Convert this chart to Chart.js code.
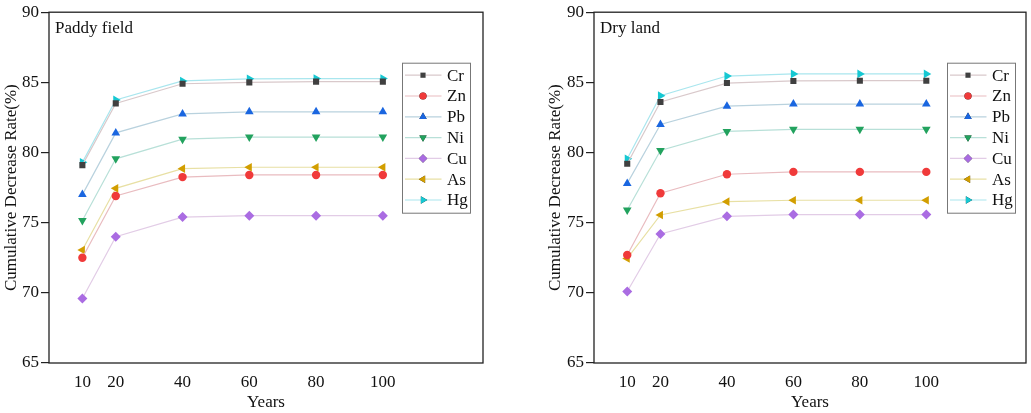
<!DOCTYPE html>
<html>
<head>
<meta charset="utf-8">
<script src="https://cdn.jsdelivr.net/npm/chart.js@4.4.1/dist/chart.umd.min.js"></script>
<style>
  html, body { margin: 0; padding: 0; background: #fff; }
  #wrap { position: relative; width: 1031px; height: 413px; }
  .panel { position: absolute; top: 0; }
  #paddy { left: 0; width: 515px; height: 413px; }
  #dry { left: 545px; width: 486px; height: 413px; }
</style>
</head>
<body>
<div id="wrap">
  <div class="panel" id="paddy"><canvas id="paddyChart"></canvas></div>
  <div class="panel" id="dry"><canvas id="dryChart"></canvas></div>
</div>
<script>
'use strict';

// years on the x axis
let years = [10, 20, 40, 60, 80, 100];
let yTicks = [65, 70, 75, 80, 85, 90];
let metals = ['Cr', 'Zn', 'Pb', 'Ni', 'Cu', 'As', 'Hg'];

// paddy field values
let paddyCr = [79.1, 83.5, 84.9, 85.0, 85.05, 85.05];
let paddyZn = [72.5, 76.9, 78.25, 78.4, 78.4, 78.4];
let paddyPb = [77.0, 81.4, 82.75, 82.9, 82.9, 82.9];
let paddyNi = [75.15, 79.55, 80.95, 81.1, 81.1, 81.1];
let paddyCu = [69.6, 74.0, 75.4, 75.5, 75.5, 75.5];
let paddyAs = [73.05, 77.45, 78.85, 78.95, 78.95, 78.95];
let paddyHg = [79.3, 83.75, 85.1, 85.25, 85.27, 85.27];

// dry land values
let dryCr = [79.2, 83.6, 84.95, 85.1, 85.12, 85.12];
let dryZn = [72.7, 77.1, 78.45, 78.62, 78.62, 78.62];
let dryPb = [77.8, 82.0, 83.3, 83.45, 83.45, 83.45];
let dryNi = [75.9, 80.15, 81.5, 81.65, 81.65, 81.65];
let dryCu = [70.1, 74.2, 75.45, 75.58, 75.58, 75.58];
let dryAs = [72.45, 75.55, 76.5, 76.6, 76.6, 76.6];
let dryHg = [79.55, 84.05, 85.45, 85.6, 85.6, 85.6];

let markerColors = ['#404040', '#f03a3a', '#1a66e0', '#22a25e', '#aa6ce2', '#d29e00', '#16c8d2'];
let lineColors = ['#d9c9cb', '#e9bcc0', '#b9d2de', '#b8e0d8', '#e2cce6', '#e8e0a4', '#a9e6ee'];
let markerShapes = ['rect', 'circle', 'triangle', 'triangle', 'rectRot', 'triangle', 'triangle'];
let markerRotation = [0, 0, 0, 180, 0, -90, 90];
let markerSizes = [4.3, 4.2, 5, 5, 5, 5, 5];

const serif = '"Liberation Serif", "DejaVu Serif", serif';

function makeDatasets(seriesList) {
  let sets = [];
  for (let i = 0; i < metals.length; i++) {
    let pts = [];
    for (let j = 0; j < years.length; j++) {
      pts.push({ x: years[j], y: seriesList[i][j] });
    }
    sets.push({
      label: metals[i],
      data: pts,
      borderColor: lineColors[i],
      borderWidth: 1.2,
      backgroundColor: markerColors[i],
      pointBackgroundColor: markerColors[i],
      pointBorderColor: markerColors[i],
      pointBorderWidth: 0,
      pointStyle: markerShapes[i],
      rotation: markerRotation[i],
      pointRadius: markerSizes[i],
      tension: 0
    });
  }
  return sets;
}

// frame + inner label + legend box
const framePlugin = {
  id: 'frame',
  afterDraw(chart, args, opts) {
    let ctx = chart.ctx;
    let a = chart.chartArea;
    ctx.save();
    ctx.strokeStyle = '#222';
    ctx.lineWidth = 1.3;
    ctx.strokeRect(a.left, a.top, a.right - a.left, a.bottom - a.top);

    ctx.fillStyle = '#111';
    ctx.font = '17px ' + serif;
    ctx.textBaseline = 'middle';
    ctx.textAlign = 'left';
    ctx.fillText(opts.label, a.left + 6, a.top + 16);

    // legend
    let bx = a.left + 353.5;
    let by = a.top + 51;
    ctx.fillStyle = '#fff';
    ctx.fillRect(bx, by, 68, 150);
    ctx.strokeStyle = '#777';
    ctx.lineWidth = 1;
    ctx.strokeRect(bx, by, 68, 150);
    chart.data.datasets.forEach(function (ds, i) {
      let cy = by + 12 + i * 20.8;
      ctx.strokeStyle = ds.borderColor;
      ctx.lineWidth = 1.2;
      ctx.beginPath();
      ctx.moveTo(bx + 2.5, cy);
      ctx.lineTo(bx + 39, cy);
      ctx.stroke();
      Chart.helpers.drawPoint(ctx, {
        pointStyle: ds.pointStyle,
        rotation: ds.rotation,
        radius: ds.pointRadius * 0.85,
        borderWidth: 0
      }, bx + 20.5, cy);
      ctx.fillStyle = ds.pointBackgroundColor;
      ctx.strokeStyle = ds.pointBackgroundColor;
      ctx.fill();
      ctx.fillStyle = '#111';
      ctx.font = '17px ' + serif;
      ctx.textAlign = 'left';
      ctx.textBaseline = 'middle';
      ctx.fillText(ds.label, bx + 44.5, cy + 1);
    });
    ctx.restore();
  }
};

function buildChart(canvasId, seriesList, label, rightPad, titlePad) {
  let ctx = document.getElementById(canvasId).getContext('2d');
  return new Chart(ctx, {
    type: 'line',
    data: { datasets: makeDatasets(seriesList) },
    options: {
      responsive: true,
      maintainAspectRatio: false,
      animation: false,
      layout: { padding: { top: 12, right: rightPad, left: 0, bottom: 0 } },
      plugins: {
        legend: { display: false },
        tooltip: { enabled: false },
        frame: { label: label }
      },
      scales: {
        x: {
          type: 'linear',
          min: 0,
          max: 130,
          afterBuildTicks(scale) {
            scale.ticks = years.map(v => ({ value: v }));
          },
          afterFit(scale) { scale.height = 50; },
          grid: { display: false },
          border: { display: false },
          ticks: {
            color: '#111',
            font: { family: serif, size: 17 },
            padding: 1,
            maxRotation: 0,
            autoSkip: false
          },
          title: {
            display: true,
            text: 'Years',
            color: '#111',
            font: { family: serif, size: 17 },
            padding: { top: 0, bottom: 0 }
          }
        },
        y: {
          min: 65,
          max: 90,
          afterBuildTicks(scale) {
            scale.ticks = yTicks.map(v => ({ value: v }));
          },
          afterFit(scale) { scale.width = 49; },
          grid: {
            drawOnChartArea: false,
            drawTicks: true,
            tickLength: 8,
            tickColor: '#222',
            lineWidth: 1.2
          },
          border: { display: false },
          ticks: {
            color: '#111',
            font: { family: serif, size: 17 },
            padding: 2
          },
          title: {
            display: true,
            text: 'Cumulative Decrease Rate(%)',
            color: '#111',
            font: { family: serif, size: 17 },
            padding: { top: titlePad, bottom: 0 }
          }
        }
      }
    },
    plugins: [framePlugin]
  });
}

buildChart('paddyChart',
  [paddyCr, paddyZn, paddyPb, paddyNi, paddyCu, paddyAs, paddyHg],
  'Paddy field', 32, 1);
buildChart('dryChart',
  [dryCr, dryZn, dryPb, dryNi, dryCu, dryAs, dryHg],
  'Dry land', 3, 0);
</script>
</body>
</html>
